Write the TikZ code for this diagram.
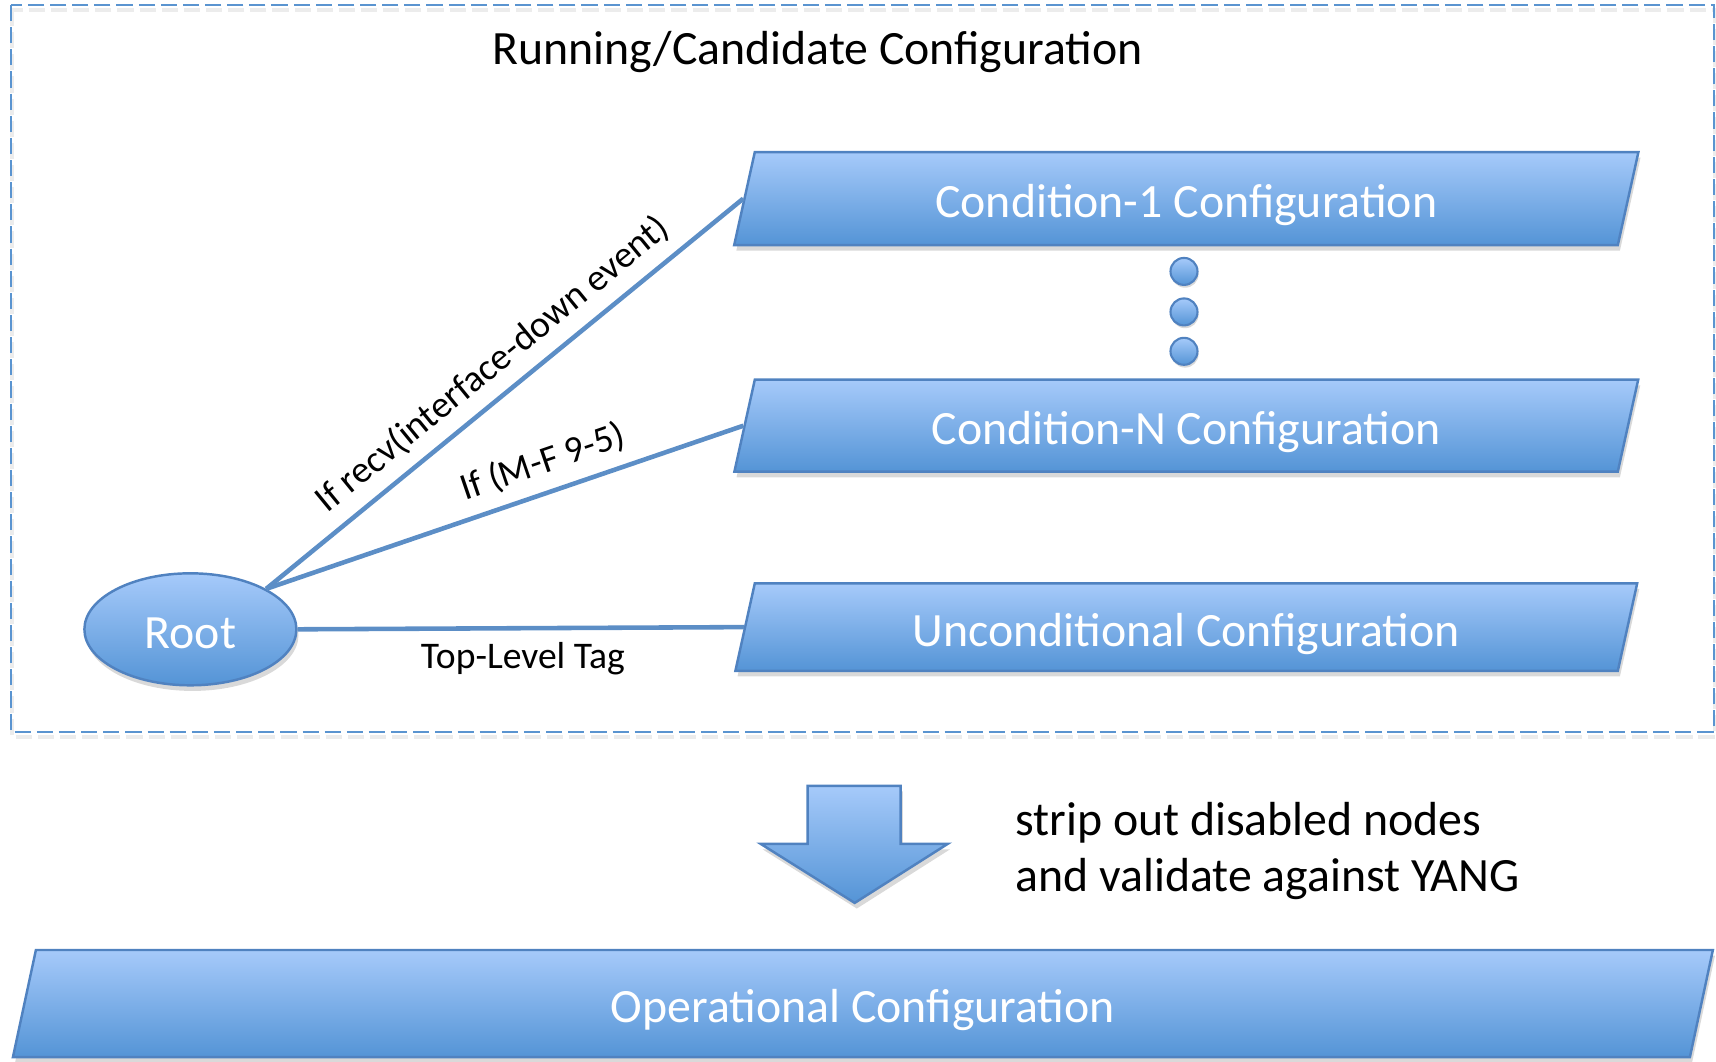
\documentclass[tikz,border=0pt]{standalone}
\usepackage{fontspec}
\setmainfont{Carlito}
\usetikzlibrary{shapes.geometric, shadows}
\usetikzlibrary{positioning}
\usepackage{xcolor}

\definecolor{cfgtop}{RGB}{166,202,250}
\definecolor{cfgbot}{RGB}{84,148,214}
\definecolor{cfgedge}{RGB}{80,130,192}
\definecolor{linkblue}{RGB}{92,142,198}
\definecolor{framedash}{RGB}{90,148,208}

\begin{document}
\begin{tikzpicture}[every node/.style={font=\fontsize{13.6}{16}\selectfont},
	cfgbox/.style={trapezium, trapezium left angle=77.5, trapezium right angle=102.5,
		draw=cfgedge, line width=0.7pt, top color=cfgtop, bottom color=cfgbot, text=white,
		text height=12.8pt, text depth=2pt, inner xsep=0pt, align=flush center, text width=8.63cm,
		drop shadow={opacity=0.3, shadow xshift=0.6pt, shadow yshift=-1.6pt}},
	dotball/.style={circle, draw=cfgedge, line width=0.6pt, top color=cfgtop, bottom color=cfgbot,
		minimum size=0.27cm, inner sep=0pt, drop shadow={opacity=0.3, shadow xshift=0.3pt, shadow yshift=-0.8pt}},
	link/.style={linkblue, line width=1.3pt},
	cond/.style={font=\fontsize{10.7}{12.8}\selectfont, text=black},
	framedashes/.style={line width=0.6pt, dash pattern=on 4.6pt off 1.7pt}]

	\useasboundingbox (0,0) rectangle (17.16,-10.61);

	% running / candidate
	\draw[framedashes, black!30, opacity=0.25, line width=1.4pt] (0.12,-0.10) rectangle (17.15,-7.37);
	\draw[framedashes, framedash] (0.11,-0.05) rectangle (17.14,-7.32);
	\node (title) at (8.175,-0.525) {Running/Candidate Configuration};

	\node[cfgbox, inner ysep=5.83pt] (cond1) at (11.863,-1.986) {Condition-1 Configuration};
	\node[cfgbox, inner ysep=5.69pt] (condN) at (11.863,-4.257) {Condition-N Configuration};
	\node[cfgbox, inner ysep=5.05pt] (uncond) at (11.863,-6.271) {Unconditional Configuration};

	\node[dotball] (dot1) at (11.84,-2.714) {};
	\node[dotball] (dot2) at (11.84,-3.119) {};
	\node[dotball] (dot3) at (11.84,-3.513) {};

	\node[ellipse, draw=cfgedge, line width=0.7pt, top color=cfgtop, bottom color=cfgbot, text=white,
		minimum width=2.12cm, minimum height=1.12cm, inner sep=0pt, text height=12.8pt, text depth=2pt,
		drop shadow={opacity=0.3, shadow xshift=0.6pt, shadow yshift=-1.6pt}] (root) at (1.904,-6.293) {Root};

	\draw[link] (root.north east) -- (cond1.west) node[cond, pos=0.515, sloped, above] {If recv(interface-down event)};
	\draw[link] (root.north east) -- (condN.west) node[cond, pos=0.6, sloped, above] {If (M-F 9-5)};
	\draw[link] (root.east) -- (uncond.west) node[cond, pos=0.505, below] {Top-Level Tag};

	% strip and validate
	\draw[cfgedge, line width=0.7pt, top color=cfgtop, bottom color=cfgbot,
		drop shadow={opacity=0.3, shadow xshift=0.6pt, shadow yshift=-1.6pt}]
		(8.077,-7.858) -- (9.007,-7.858) -- (9.007,-8.438) -- (9.478,-8.438)
		-- (8.547,-9.029) -- (7.606,-8.438) -- (8.077,-8.438) -- cycle;
	\node[anchor=west, align=left, font=\fontsize{13.6}{15.9}\selectfont] (strip) at (10.03,-8.51)
		{strip out disabled nodes\\and validate against YANG};

	\node[cfgbox, trapezium left angle=77.9, trapezium right angle=102.1,
		text width=16.54cm, inner ysep=7.85pt] (oper) at (8.629,-10.036) {Operational Configuration};
\end{tikzpicture}
\end{document}
